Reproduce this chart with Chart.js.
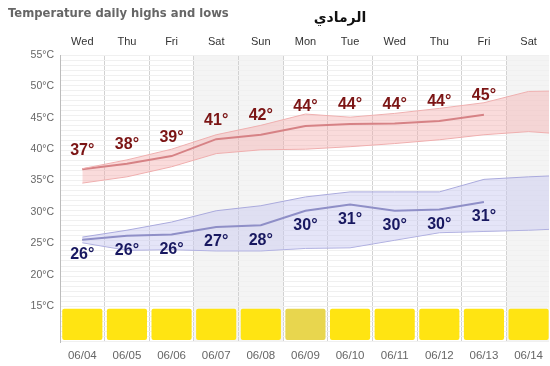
<!DOCTYPE html>
<html>
<head>
<meta charset="utf-8">
<script src="https://cdn.jsdelivr.net/npm/chart.js@4/dist/chart.umd.min.js"></script>
<style>
  html, body { margin: 0; padding: 0; background: #fff; overflow: hidden; }
</style>
</head>
<body>
<canvas id="myChart" width="550" height="366"></canvas>
<script>
// day columns
const days = ['Wed', 'Thu', 'Fri', 'Sat', 'Sun', 'Mon', 'Tue', 'Wed', 'Thu', 'Fri', 'Sat'];
const dates = ['06/04', '06/05', '06/06', '06/07', '06/08', '06/09', '06/10', '06/11', '06/12', '06/13', '06/14'];

// highs: average line + range band (band has one extra day past the edge)
const highAvg = [36.8, 37.7, 38.9, 41.6, 42.3, 43.7, 44.0, 44.1, 44.5, 45.5];
const highTop = [36.9, 38.3, 40.0, 42.3, 43.8, 45.6, 45.1, 45.7, 46.5, 47.4, 49.2, 49.3];
const highBottom = [34.6, 35.6, 37.2, 39.3, 39.9, 40.0, 40.4, 40.9, 41.5, 42.3, 42.8, 42.3];
const highLabels = [37, 38, 39, 41, 42, 44, 44, 44, 44, 45];

// lows
const lowAvg = [25.6, 26.2, 26.4, 27.6, 27.9, 30.2, 31.2, 30.2, 30.4, 31.6];
const lowTop = [26.0, 27.1, 28.4, 30.2, 31.0, 32.4, 33.2, 33.2, 33.2, 35.2, 35.6, 35.9];
const lowBottom = [25.1, 23.9, 24.0, 23.8, 23.8, 24.2, 24.3, 25.5, 26.7, 26.9, 27.1, 27.4];
const lowLabels = [26, 26, 26, 27, 28, 30, 31, 30, 30, 31];

// sky strip at the bottom (hazy day drawn duller)
const hazy = [0, 0, 0, 0, 0, 1, 0, 0, 0, 0, 0];
const stripRange = [9.6, 14.6];

const yLabels = [15, 20, 25, 30, 35, 40, 45, 50, 55];

const pts = arr => arr.map((v, i) => ({ x: i, y: v }));

// light grey behind weekend columns
const weekendShade = {
  id: 'weekendShade',
  beforeDraw(chart) {
    const { ctx, chartArea, scales } = chart;
    ctx.save();
    ctx.fillStyle = '#f4f4f4';
    days.forEach((d, i) => {
      if (d !== 'Sat' && d !== 'Sun') return;
      const l = scales.x.getPixelForValue(i - 0.5);
      const r = Math.min(scales.x.getPixelForValue(i + 0.5), chartArea.right);
      ctx.fillRect(l, chartArea.top, r - l, chartArea.bottom - chartArea.top);
    });
    ctx.restore();
  }
};

// degree labels over/under the lines + headings
const tempLabels = {
  id: 'tempLabels',
  afterDatasetsDraw(chart) {
    const ctx = chart.ctx;
    ctx.save();
    ctx.font = 'bold 16px "Liberation Sans", Arial, sans-serif';
    ctx.textAlign = 'center';
    ctx.textBaseline = 'middle';
    chart.getDatasetMeta(2).data.forEach((p, i) => {
      ctx.fillStyle = '#7b1414';
      ctx.fillText(highLabels[i] + '°', p.x, p.y - 19);
    });
    chart.getDatasetMeta(5).data.forEach((p, i) => {
      ctx.fillStyle = '#181860';
      ctx.fillText(lowLabels[i] + '°', p.x, p.y + 15);
    });
    // city name
    ctx.fillStyle = '#111';
    ctx.font = 'bold 14px "DejaVu Sans", sans-serif';
    ctx.fillText('الرمادي', 340, 18);
    ctx.textAlign = 'left';
    ctx.fillStyle = '#666';
    ctx.font = 'bold 11.6px "DejaVu Sans", Verdana, sans-serif';
    ctx.fillText('Temperature daily highs and lows', 8, 14);
    ctx.restore();
  }
};

const ctx = document.getElementById('myChart').getContext('2d');
const myChart = new Chart(ctx, {
  type: 'line',
  data: {
    datasets: [
      { data: pts(highTop), borderColor: '#efb0b0', borderWidth: 1, backgroundColor: 'rgba(242,170,170,0.42)', fill: '+1', pointRadius: 0, tension: 0 },
      { data: pts(highBottom), borderColor: '#efb0b0', borderWidth: 1, fill: false, pointRadius: 0, tension: 0 },
      { data: pts(highAvg), borderColor: '#c2666c', borderWidth: 2, fill: false, pointRadius: 0, tension: 0 },
      { data: pts(lowTop), borderColor: '#aaaadd', borderWidth: 1, backgroundColor: 'rgba(200,200,240,0.48)', fill: '+1', pointRadius: 0, tension: 0 },
      { data: pts(lowBottom), borderColor: '#aaaadd', borderWidth: 1, fill: false, pointRadius: 0, tension: 0 },
      { data: pts(lowAvg), borderColor: '#5a5aa2', borderWidth: 2, fill: false, pointRadius: 0, tension: 0 },
      {
        type: 'bar',
        data: days.map((d, i) => ({ x: i, y: stripRange })),
        backgroundColor: hazy.map(h => h ? '#e8d64e' : '#ffe412'),
        barPercentage: 0.9,
        categoryPercentage: 1,
        borderRadius: 2,
        borderSkipped: false
      }
    ]
  },
  options: {
    responsive: false,
    animation: false,
    devicePixelRatio: 1,
    layout: { padding: { left: 0, right: 0, top: 30, bottom: 0 } },
    plugins: {
      legend: { display: false },
      tooltip: { enabled: false },
      title: { display: false }
    },
    scales: {
      x: {
        type: 'linear',
        position: 'bottom',
        offset: false,
        min: -0.5,
        max: 10.46,
        afterBuildTicks: s => { s.ticks = dates.map((d, i) => ({ value: i })); },
        afterFit: s => { s.height = 24; },
        ticks: {
          callback: v => dates[v],
          color: '#666',
          font: { family: '"Liberation Sans", Arial, sans-serif', size: 11.5 },
          padding: 7,
          autoSkip: false,
          maxRotation: 0
        },
        grid: { offset: true, color: '#d2d2d2', drawTicks: false },
        border: { display: false }
      },
      xTop: {
        type: 'linear',
        position: 'top',
        offset: false,
        min: -0.5,
        max: 10.46,
        afterBuildTicks: s => { s.ticks = days.map((d, i) => ({ value: i })); },
        afterFit: s => { s.height = 25; },
        ticks: {
          callback: v => days[v],
          color: '#333',
          font: { family: '"Liberation Sans", Arial, sans-serif', size: 11 },
          padding: 6,
          autoSkip: false,
          maxRotation: 0
        },
        grid: { display: false, drawTicks: false },
        border: { display: false }
      },
      y: {
        min: 9.3,
        max: 55,
        afterBuildTicks: s => { s.ticks = yLabels.map(v => ({ value: v })); },
        afterFit: s => { s.width = 60; },
        ticks: {
          callback: v => v + '°C',
          color: '#666',
          font: { family: '"Liberation Sans", Arial, sans-serif', size: 10.5 },
          padding: 6
        },
        grid: { display: false, drawTicks: false },
        border: { color: '#bcbcbc' }
      },
      yGrid: {
        position: 'right',
        min: 9.3,
        max: 55,
        afterBuildTicks: s => {
          const t = [];
          for (let v = 55; v > 9.3; v -= 0.8) t.push({ value: v });
          s.ticks = t;
        },
        afterFit: s => { s.width = 0; },
        ticks: { display: false },
        grid: { color: '#f0f0f0', drawTicks: false },
        border: { display: false }
      }
    }
  },
  plugins: [weekendShade, tempLabels]
});
</script>
</body>
</html>
